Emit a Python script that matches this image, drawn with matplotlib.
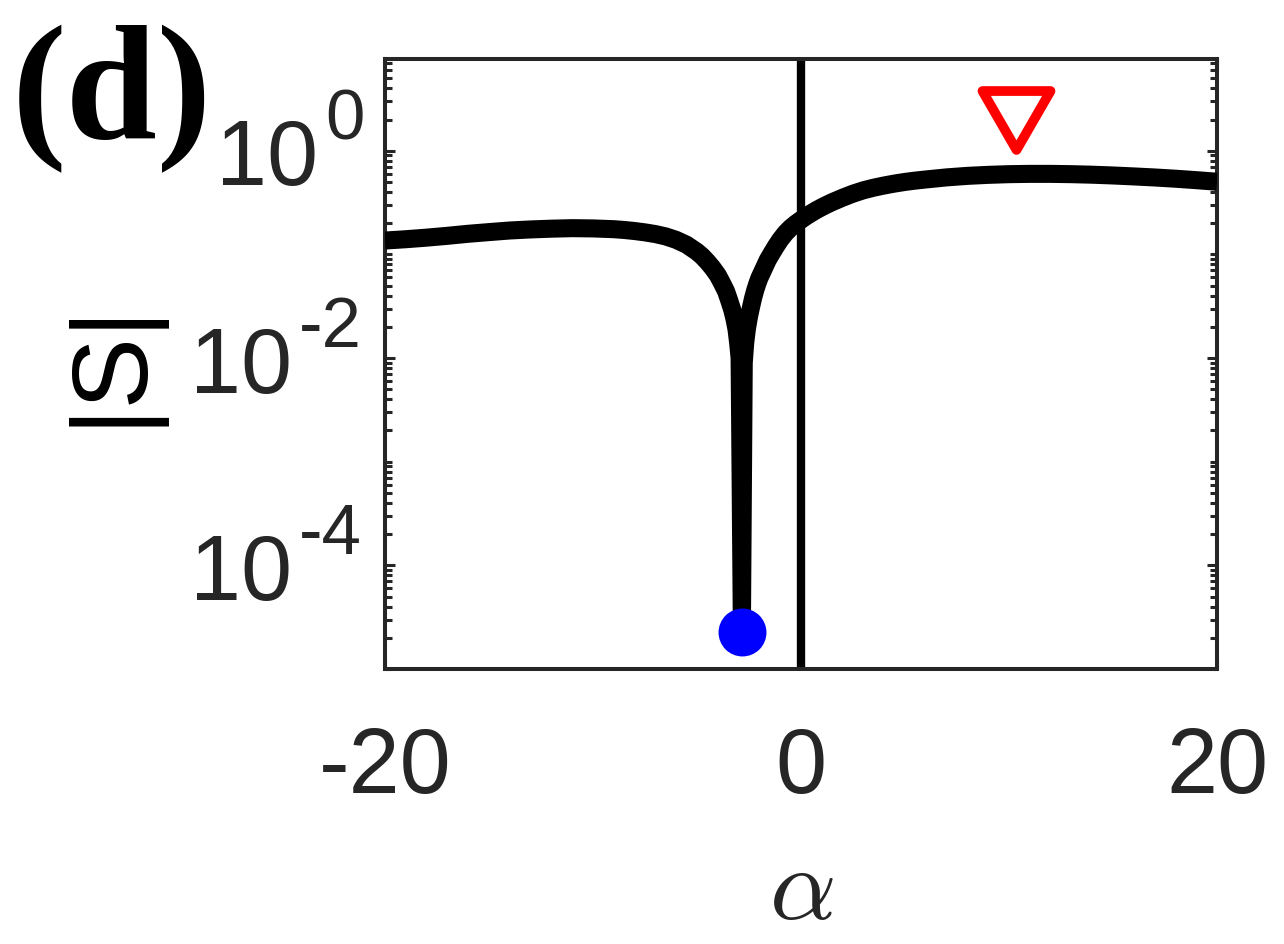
import matplotlib
matplotlib.use("Agg")
import matplotlib.pyplot as plt
import matplotlib.transforms as mtransforms
from matplotlib.path import Path
from matplotlib.ticker import FixedLocator, FuncFormatter, NullLocator, NullFormatter
from matplotlib.markers import MarkerStyle

# ----------------------------- data -----------------------------

alpha = [-20, -19, -18, -17, -16, -15, -14, -13, -12, -11, -10, -9, -8.5, -8, -7.5,
         -7, -6.5, -6, -5.5, -5, -4.75, -4.5, -4.25, -4, -3.8, -3.6, -3.45, -3.3,
         -3.2, -3.1, -3.02, -2.95, -2.84, -2.75, -2.68, -2.6, -2.5, -2.4, -2.3,
         -2.2, -2.1, -2.0, -1.8, -1.6, -1.4, -1.2, -1.0, -0.75, -0.5, -0.25, 0,
         0.25, 0.5, 0.75, 1, 1.25, 1.5, 1.75, 2, 2.5, 3, 3.5, 4, 4.5, 5, 5.5, 6,
         7, 8, 9, 10, 11, 12, 13, 14, 15, 16, 17, 18, 19, 20]
s_abs = [0.136, 0.140, 0.145, 0.151, 0.158, 0.164, 0.170, 0.174, 0.177, 0.179,
         0.178, 0.175, 0.172, 0.168, 0.163, 0.157, 0.149, 0.138, 0.124, 0.106,
         0.096, 0.085, 0.074, 0.063, 0.053, 0.044, 0.036, 0.029, 0.024, 0.019,
         0.014, 0.010, 2.3e-5, 0.009, 0.014, 0.019, 0.025, 0.031, 0.038, 0.045,
         0.052, 0.059, 0.072, 0.088, 0.103, 0.120, 0.138, 0.160, 0.180, 0.198,
         0.215, 0.233, 0.250, 0.268, 0.285, 0.302, 0.319, 0.335, 0.352, 0.385,
         0.415, 0.440, 0.462, 0.482, 0.500, 0.515, 0.528, 0.553, 0.572, 0.585,
         0.594, 0.598, 0.598, 0.594, 0.587, 0.577, 0.565, 0.552, 0.537, 0.520,
         0.502]

dip_alpha, dip_s = -2.84, 2.3e-5       # blue dot
peak_alpha, peak_s = 10.35, 2.0        # red open triangle
line_alpha = 0.0                       # vertical line

x_ticks = [-20, 0, 20]
y_major = [1e-4, 1e-2, 1e0]
y_exponents = ['-4', '-2', '0']
y_minor = [k * 10.0 ** n for n in range(-5, 1) for k in range(1, 10)
           if k * 10.0 ** n not in y_major]

# ----------------------------------- styling -----------------------------------

plt.rcParams['font.family'] = ['Liberation Sans', 'DejaVu Sans']
plt.rcParams['axes.unicode_minus'] = False

gray = '#262626'

fig = plt.figure(figsize=(12.84, 9.45), dpi=100)
ax = fig.add_axes([0.2998, 0.291, 0.6480, 0.6455])

ax.axvline(line_alpha, color='black', lw=6, zorder=2)
ax.plot(alpha, s_abs, color='black', lw=13, solid_joinstyle='round',
        solid_capstyle='butt', zorder=3)
ax.plot([dip_alpha], [dip_s], 'o', color='blue', ms=34.5, mec='none', zorder=4,
        clip_on=False)

tri_path = Path([(-1, 0.866), (1, 0.866), (0, -0.866), (-1, 0.866)], closed=True)
tri = MarkerStyle(tri_path, joinstyle='miter')
ax.plot([peak_alpha], [peak_s], linestyle='none', marker=tri, ms=49,
        mfc='none', mec='red', mew=7, zorder=4)

ax.set_yscale('log')
ax.set_xlim(-20, 20)
ax.set_ylim(1e-5, 7.67)

ax.xaxis.set_major_locator(FixedLocator(x_ticks))
ax.xaxis.set_minor_locator(NullLocator())
ax.yaxis.set_major_locator(FixedLocator(y_major))
ax.yaxis.set_minor_locator(FixedLocator(y_minor))
ax.yaxis.set_minor_formatter(NullFormatter())

# y tick labels: "10" as the tick label, the exponent as a raised text next to it
ax.yaxis.set_major_formatter(FuncFormatter(lambda v, p: '10'))
ax.xaxis.set_major_formatter(FuncFormatter(lambda v, p: f"{v:g}"))

for sp in ax.spines.values():
    sp.set_linewidth(2.9)
    sp.set_color(gray)

ax.tick_params(which='both', direction='in', top=True, right=True,
               colors=gray, width=2.2)
ax.tick_params(which='major', length=7.2, labelsize=66)
ax.tick_params(which='minor', length=5)
ax.tick_params(axis='x', which='major', pad=40)

# pad (pt) of "10" and x offset (axes fraction) of the exponent
base_pad = {'0': 48, '-2': 67, '-4': 67}
exp_x = {'0': -0.0715, '-2': -0.104, '-4': -0.104}

trans = mtransforms.blended_transform_factory(ax.transAxes, ax.transData)
trans_up = mtransforms.offset_copy(trans, fig=fig, x=0, y=9, units='points')
for tick, val, ex in zip(ax.yaxis.get_major_ticks(), y_major, y_exponents):
    tick.set_pad(base_pad[ex])
    ax.text(exp_x[ex], val, ex, transform=trans_up, fontsize=51, color=gray,
            ha='left', va='baseline', clip_on=False)

ax.set_ylabel('|S|', fontsize=77, color='black')
ax.yaxis.label.set_va('center')
ax.yaxis.set_label_coords(-0.330, 0.503)

ax.set_xlabel(r'$\alpha$', fontsize=75, color=gray, math_fontfamily='cm')
ax.xaxis.set_label_coords(0.5, -0.365)
ax.xaxis.label.set_va('center')

fig.text(12 / 1284, 1 - 138 / 945, '(d)', fontsize=118, fontweight='bold',
         family='Liberation Serif', ha='left', va='baseline')

fig.savefig('out.png', dpi=100)
